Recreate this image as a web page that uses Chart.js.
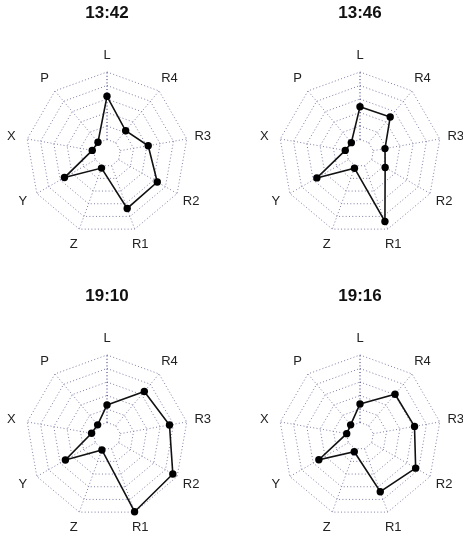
<!DOCTYPE html>
<html>
<head>
<meta charset="utf-8">
<script src="https://cdn.jsdelivr.net/npm/chart.js@4"></script>
<style>
  body { margin: 0; background: #fff; }
  #wrap { position: relative; width: 463px; height: 538px; }
  canvas { position: absolute; }
</style>
</head>
<body>
<div id="wrap">
  <canvas id="c0" width="214" height="255" style="left:0px;top:0px"></canvas>
  <canvas id="c1" width="214" height="255" style="left:253px;top:0px"></canvas>
  <canvas id="c2" width="214" height="255" style="left:0px;top:283px"></canvas>
  <canvas id="c3" width="214" height="255" style="left:253px;top:283px"></canvas>
</div>
<script>
// axes, clockwise from the top
const axisLabels = ['L', 'R4', 'R3', 'R2', 'R1', 'Z', 'Y', 'X', 'P'];
const titles = ['13:42', '13:46', '19:10', '19:16'];

// values in ring units (inner ring = 1, outer ring = 6)
const t1342 = [4.2, 2.15, 3.1, 4.3, 4.37, 1.19, 3.64, 1.11, 1.04];
const t1346 = [3.43, 3.48, 1.88, 2.15, 5.4, 1.2, 3.69, 1.11, 1.0];
const t1910 = [2.3, 4.3, 4.7, 5.63, 5.97, 1.1, 3.56, 1.16, 1.08];
const t1916 = [2.37, 4.04, 4.1, 4.76, 4.39, 1.24, 3.52, 1.0, 1.08];

const series = [t1342, t1346, t1910, t1916];

const gridColor = 'rgba(105,105,150,0.85)';
const gridDash = [1, 2.3];
const fontFamily = '"Liberation Sans", Arial, sans-serif';

// spokes from inner ring to outer ring, and labels at 1.2 x radius
const radarExtras = {
    id: 'radarExtras',
    beforeDatasetsDraw(chart) {
        const scale = chart.scales.r;
        const ctx = chart.ctx;
        ctx.save();
        ctx.lineWidth = 1;
        ctx.setLineDash(gridDash);
        for (let i = 0; i < axisLabels.length; i++) {
            const a = scale.getPointPositionForValue(i, 1);
            const b = scale.getPointPositionForValue(i, 6);
            ctx.strokeStyle = i === 0 ? 'rgba(25,25,105,0.95)' : gridColor;
            ctx.beginPath();
            ctx.moveTo(a.x, a.y);
            ctx.lineTo(b.x, b.y);
            ctx.stroke();
        }
        ctx.restore();
    },
    afterDraw(chart) {
        const scale = chart.scales.r;
        const ctx = chart.ctx;
        ctx.save();
        ctx.font = '13px ' + fontFamily;
        ctx.fillStyle = '#222';
        ctx.textAlign = 'center';
        ctx.textBaseline = 'middle';
        axisLabels.forEach((lab, i) => {
            const p = scale.getPointPosition(i, scale.drawingArea * 1.2);
            ctx.fillText(lab, p.x, p.y);
        });
        ctx.restore();
    }
};

series.forEach((vals, k) => {
    const ctx = document.getElementById('c' + k);
    new Chart(ctx, {
        type: 'radar',
        data: {
            labels: axisLabels,
            datasets: [{
                data: vals,
                borderColor: '#111',
                borderWidth: 1.6,
                backgroundColor: 'rgba(0,0,0,0)',
                fill: false,
                pointRadius: 3.7,
                pointBackgroundColor: '#000',
                pointBorderColor: '#000',
                pointBorderWidth: 0
            }]
        },
        options: {
            responsive: false,
            animation: false,
            layout: { padding: { left: 26, right: 26, top: 0, bottom: 21 } },
            plugins: {
                legend: { display: false },
                tooltip: { enabled: false },
                title: {
                    display: true,
                    text: titles[k],
                    color: '#111',
                    font: { family: fontFamily, size: 17, weight: 'bold', lineHeight: 1.2 },
                    padding: { top: 3, bottom: 48.6 }
                }
            },
            scales: {
                r: {
                    min: 0,
                    max: 6,
                    ticks: { display: false, stepSize: 1 },
                    grid: { color: gridColor, lineWidth: 1 },
                    border: { dash: gridDash },
                    angleLines: { display: false },
                    pointLabels: { display: false }
                }
            }
        },
        plugins: [radarExtras]
    });
});
</script>
</body>
</html>
